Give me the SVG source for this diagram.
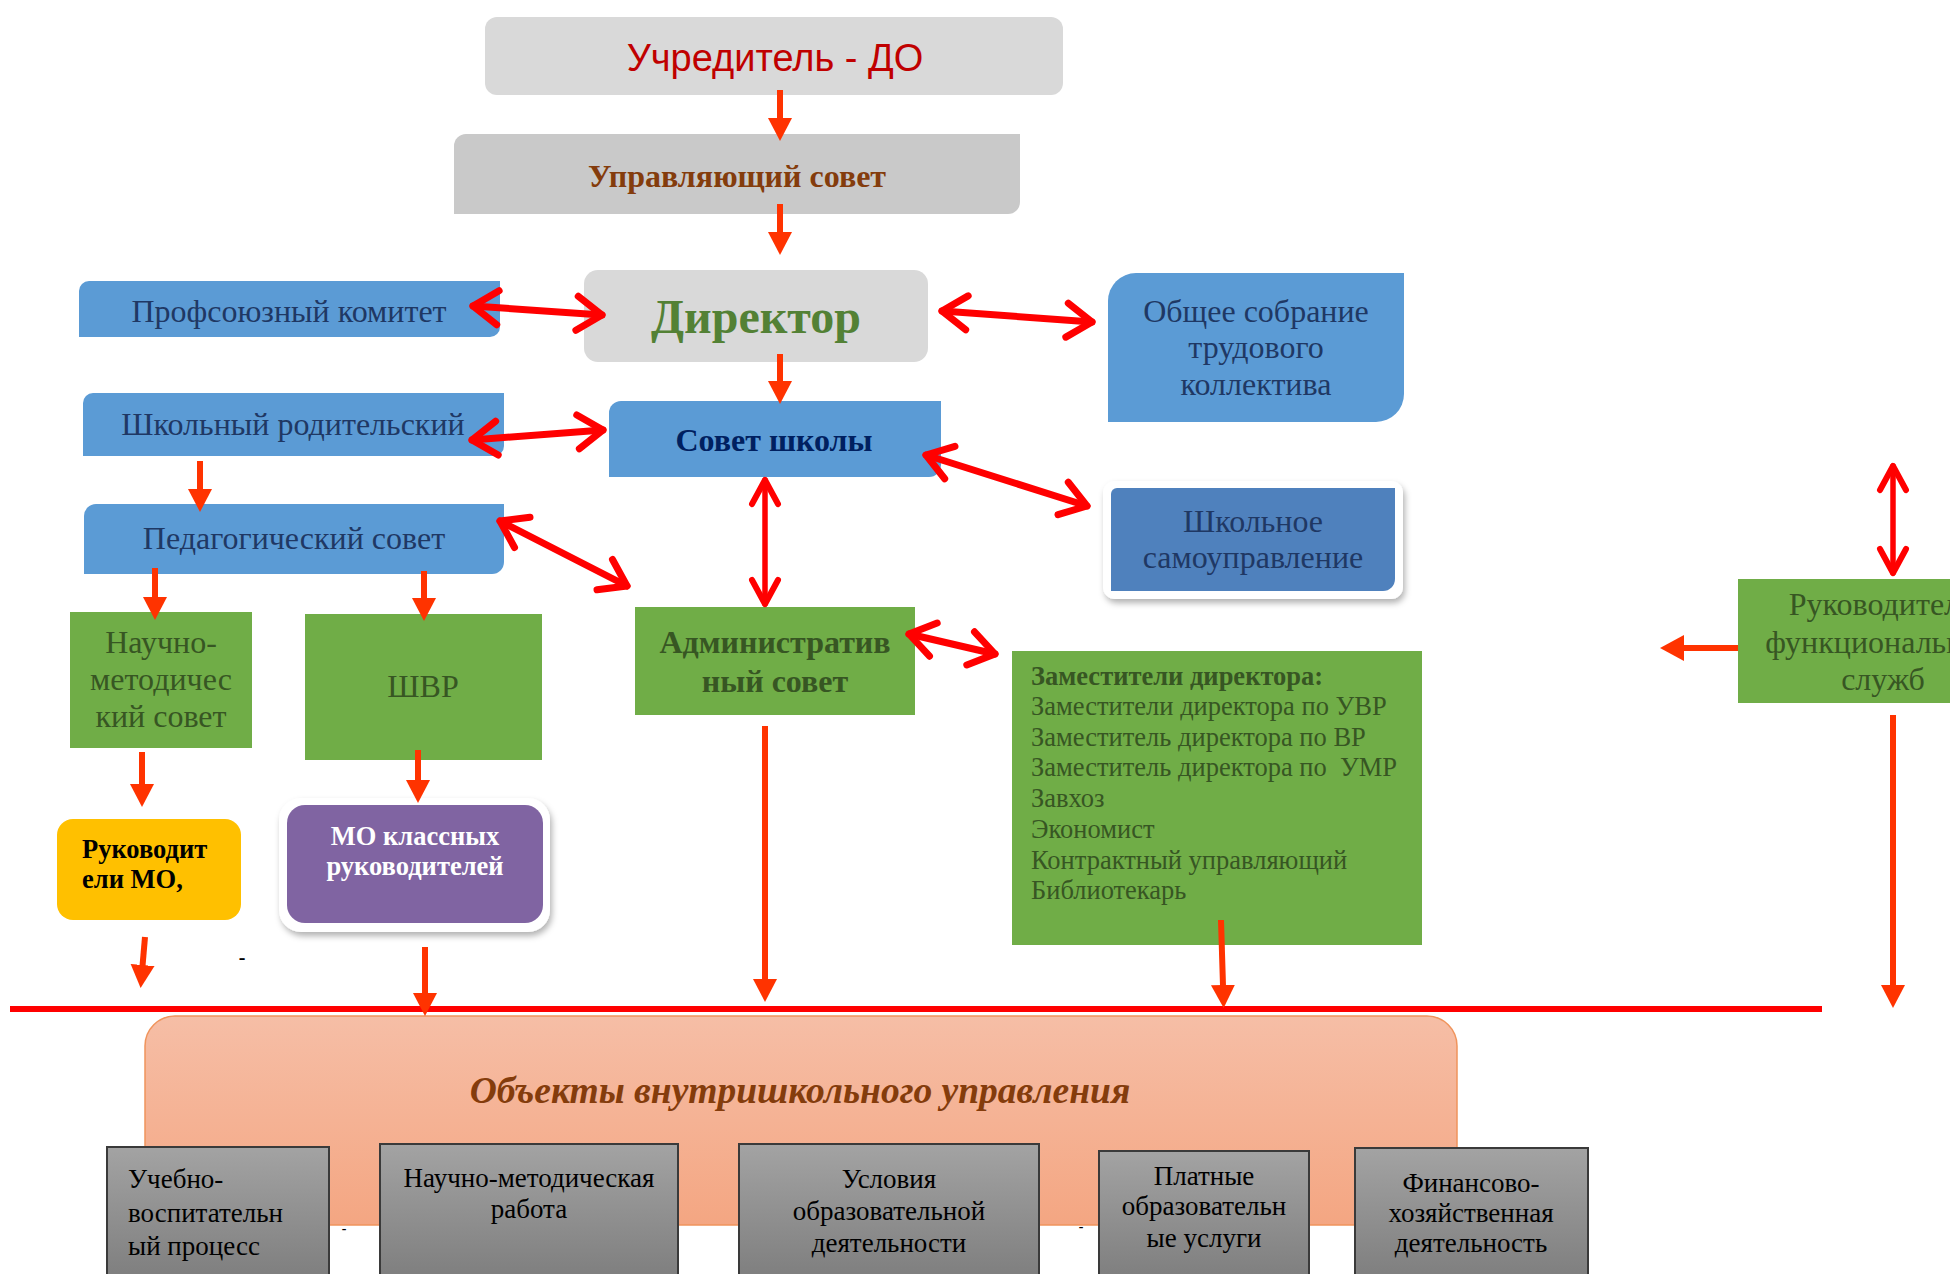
<svg xmlns="http://www.w3.org/2000/svg" width="1950" height="1274" viewBox="0 0 1950 1274">
<style>
.serif{font-family:"Liberation Serif","Times New Roman",serif}
.sans{font-family:"Liberation Sans",Arial,sans-serif}
.blue{fill:#5b9bd5}
.green{fill:#70ad47}
.gray{fill:#d9d9d9}
.tblue{fill:#1f3864}
.tgreen{fill:#375623}
.mid{text-anchor:middle}
.arr{stroke:#ff3300;stroke-width:6;fill:none}
.dbl{stroke:#ff0000;stroke-width:7;fill:none;stroke-linecap:round}
.dbl2{stroke:#ff0000;stroke-width:5.5;fill:none;stroke-linecap:round}
.gbox{fill:url(#gg);stroke:#3a3a3a;stroke-width:2}
.btxt{font-size:27px;fill:#000}
</style>
<defs>
<marker id="hd" markerUnits="userSpaceOnUse" viewBox="0 -13 24 26" refX="1" refY="0" markerWidth="24" markerHeight="26" orient="auto">
<path d="M0,-12 L23,0 L0,12 Z" fill="#ff3300"/>
</marker>
<marker id="hdL" markerUnits="userSpaceOnUse" viewBox="0 -14 26 28" refX="1" refY="0" markerWidth="26" markerHeight="28" orient="auto">
<path d="M0,-13 L24,0 L0,13 Z" fill="#ff3300"/>
</marker>
<marker id="chev" markerUnits="userSpaceOnUse" viewBox="-32 -24 40 48" refX="0" refY="0" markerWidth="40" markerHeight="48" orient="auto-start-reverse" overflow="visible">
<path d="M-25,-17 L0,0 L-25,17" fill="none" stroke="#ff0000" stroke-width="7" stroke-linecap="round" stroke-linejoin="round"/>
</marker>
<marker id="chev2" markerUnits="userSpaceOnUse" viewBox="-32 -24 40 48" refX="0" refY="0" markerWidth="40" markerHeight="48" orient="auto-start-reverse" overflow="visible">
<path d="M-24,-13 L0,0 L-24,13" fill="none" stroke="#ff0000" stroke-width="6" stroke-linecap="round" stroke-linejoin="round"/>
</marker>
<linearGradient id="sal" x1="0" y1="0" x2="0" y2="1">
<stop offset="0" stop-color="#f6bea6"/>
<stop offset="1" stop-color="#f4a682"/>
</linearGradient>
<linearGradient id="gg" x1="0" y1="0" x2="0" y2="1">
<stop offset="0" stop-color="#a3a3a3"/>
<stop offset="1" stop-color="#7c7c7c"/>
</linearGradient>
<filter id="sh" x="-10%" y="-10%" width="125%" height="130%">
<feDropShadow dx="2" dy="4" stdDeviation="3" flood-color="#000" flood-opacity="0.3"/>
</filter>
</defs>

<!-- salmon objects panel (background) -->
<g id="objects">
<rect x="145" y="1016" width="1312" height="209" rx="30" fill="url(#sal)" stroke="#f0945c" stroke-width="1.5"/>
<text class="serif" x="800" y="1103" text-anchor="middle" font-size="37.5" font-weight="bold" font-style="italic" fill="#843c0c">Объекты внутришкольного управления</text>
</g>

<g id="uchreditel">
<rect x="485" y="17" width="578" height="78" rx="12" class="gray"/>
<text class="sans" x="775" y="71" text-anchor="middle" font-size="38" fill="#c00000">Учредитель - ДО</text>
</g>

<g id="upr-sovet">
<path d="M466,134 H1020 V202 A12,12 0 0 1 1008,214 H454 V146 A12,12 0 0 1 466,134 Z" fill="#c9c9c9"/>
<text class="serif" x="737" y="187" text-anchor="middle" font-size="32" font-weight="bold" fill="#843c0c">Управляющий совет</text>
</g>

<g id="direktor">
<rect x="584" y="270" width="344" height="92" rx="14" class="gray"/>
<text class="serif" x="756" y="333" text-anchor="middle" font-size="48" font-weight="bold" fill="#538135">Директор</text>
</g>

<g id="profkom">
<path d="M89,281 H500 V327 A10,10 0 0 1 490,337 H79 V291 A10,10 0 0 1 89,281 Z" class="blue"/>
<text class="serif tblue" x="289" y="322" text-anchor="middle" font-size="32">Профсоюзный комитет</text>
</g>

<g id="obshchee">
<path d="M1136,273 H1404 V394 A28,28 0 0 1 1376,422 H1108 V301 A28,28 0 0 1 1136,273 Z" class="blue"/>
<text class="serif tblue mid" font-size="32"><tspan x="1256" y="322">Общее собрание</tspan><tspan x="1256" y="358">трудового</tspan><tspan x="1256" y="395">коллектива</tspan></text>
</g>

<g id="roditelsky">
<path d="M93,393 H504 V446 A10,10 0 0 1 494,456 H83 V403 A10,10 0 0 1 93,393 Z" class="blue"/>
<text class="serif tblue" x="293" y="435" text-anchor="middle" font-size="32">Школьный родительский</text>
</g>

<g id="sovet-shkoly">
<path d="M621,401 H941 V465 A12,12 0 0 1 929,477 H609 V413 A12,12 0 0 1 621,401 Z" class="blue"/>
<text class="serif" x="774" y="451" text-anchor="middle" font-size="32" font-weight="bold" fill="#002060">Совет школы</text>
</g>

<g id="samoupr">
<rect x="1103" y="481" width="300" height="118" rx="12" fill="#ffffff" filter="url(#sh)"/>
<path d="M1117,488 H1395 V579 A12,12 0 0 1 1383,591 H1111 V494 A6,6 0 0 1 1117,488 Z" fill="#4f81bd"/>
<text class="serif tblue mid" font-size="32"><tspan x="1253" y="532">Школьное</tspan><tspan x="1253" y="568">самоуправление</tspan></text>
</g>

<g id="ped-sovet">
<path d="M96,504 H504 V562 A12,12 0 0 1 492,574 H84 V516 A12,12 0 0 1 96,504 Z" class="blue"/>
<text class="serif tblue" x="294" y="549" text-anchor="middle" font-size="32">Педагогический совет</text>
</g>

<g id="nms">
<rect x="70" y="612" width="182" height="136" class="green"/>
<text class="serif tgreen mid" font-size="32"><tspan x="161" y="653">Научно-</tspan><tspan x="161" y="690">методичес</tspan><tspan x="161" y="727">кий совет</tspan></text>
</g>

<g id="shvr">
<rect x="305" y="614" width="237" height="146" class="green"/>
<text class="serif tgreen" x="423" y="697" text-anchor="middle" font-size="32">ШВР</text>
</g>

<g id="admin">
<rect x="635" y="607" width="280" height="108" class="green"/>
<text class="serif tgreen mid" font-size="32" font-weight="bold"><tspan x="775" y="653">Административ</tspan><tspan x="775" y="692">ный совет</tspan></text>
</g>

<g id="zamy">
<rect x="1012" y="651" width="410" height="294" class="green"/>
<text class="serif tgreen" font-size="26.5">
<tspan x="1031" y="685" font-weight="bold">Заместители директора:</tspan>
<tspan x="1031" y="715">Заместители директора по УВР</tspan>
<tspan x="1031" y="746">Заместитель директора по ВР</tspan>
<tspan x="1031" y="776" xml:space="preserve">Заместитель директора по  УМР</tspan>
<tspan x="1031" y="807">Завхоз</tspan>
<tspan x="1031" y="838">Экономист</tspan>
<tspan x="1031" y="869">Контрактный управляющий</tspan>
<tspan x="1031" y="899">Библиотекарь</tspan>
</text>
</g>

<g id="ruk-func">
<rect x="1738" y="579" width="260" height="124" class="green"/>
<text class="serif tgreen mid" font-size="32"><tspan x="1883" y="615">Руководители</tspan><tspan x="1883" y="653">функциональных</tspan><tspan x="1883" y="690">служб</tspan></text>
</g>

<g id="ruk-mo">
<rect x="57" y="819" width="184" height="101" rx="16" fill="#ffc000"/>
<text class="serif" font-size="26.5" font-weight="bold" fill="#000"><tspan x="82" y="858">Руководит</tspan><tspan x="82" y="888">ели МО,</tspan></text>
</g>

<g id="mo-klass">
<rect x="279" y="798" width="271" height="134" rx="22" fill="#ffffff" filter="url(#sh)"/>
<rect x="287" y="805" width="256" height="118" rx="18" fill="#8064a2"/>
<text class="serif mid" font-size="26.5" font-weight="bold" fill="#ffffff"><tspan x="415" y="845">МО классных</tspan><tspan x="415" y="875">руководителей</tspan></text>
</g>

<g id="obj-1">
<rect x="107" y="1147" width="222" height="140" class="gbox"/>
<text class="serif btxt" font-size="29"><tspan x="128" y="1188">Учебно-</tspan><tspan x="128" y="1222">воспитательн</tspan><tspan x="128" y="1255">ый процесс</tspan></text>
</g>
<g id="obj-2">
<rect x="380" y="1144" width="298" height="143" class="gbox"/>
<text class="serif btxt mid"><tspan x="529" y="1187">Научно-методическая</tspan><tspan x="529" y="1218">работа</tspan></text>
</g>
<g id="obj-3">
<rect x="739" y="1144" width="300" height="143" class="gbox"/>
<text class="serif btxt mid"><tspan x="889" y="1188">Условия</tspan><tspan x="889" y="1220">образовательной</tspan><tspan x="889" y="1252">деятельности</tspan></text>
</g>
<g id="obj-4">
<rect x="1099" y="1151" width="210" height="136" class="gbox"/>
<text class="serif btxt mid"><tspan x="1204" y="1185">Платные</tspan><tspan x="1204" y="1215">образовательн</tspan><tspan x="1204" y="1247">ые услуги</tspan></text>
</g>
<g id="obj-5">
<rect x="1355" y="1148" width="233" height="139" class="gbox"/>
<text class="serif btxt mid"><tspan x="1471" y="1192">Финансово-</tspan><tspan x="1471" y="1222">хозяйственная</tspan><tspan x="1471" y="1252">деятельность</tspan></text>
</g>

<g id="marks" class="serif" font-size="20" font-weight="bold" fill="#000">
<text x="242" y="964" text-anchor="middle">-</text>
<text x="344" y="1233" text-anchor="middle" font-size="14">-</text>
<text x="1081" y="1231" text-anchor="middle" font-size="14">-</text>
</g>

<g id="connectors">
<line x1="10" y1="1009" x2="1822" y2="1009" stroke="#ff0000" stroke-width="6"/>
<line class="arr" x1="780" y1="90" x2="780" y2="119" marker-end="url(#hd)"/>
<line class="arr" x1="780" y1="204" x2="780" y2="233" marker-end="url(#hd)"/>
<line class="arr" x1="780" y1="354" x2="780" y2="382" marker-end="url(#hd)"/>
<line class="arr" x1="200" y1="461" x2="200" y2="490" marker-end="url(#hd)"/>
<line class="arr" x1="155" y1="568" x2="155" y2="598" marker-end="url(#hd)"/>
<line class="arr" x1="424" y1="571" x2="424" y2="599" marker-end="url(#hd)"/>
<line class="arr" x1="142" y1="752" x2="142" y2="785" marker-end="url(#hd)"/>
<line class="arr" x1="418" y1="750" x2="418" y2="781" marker-end="url(#hd)"/>
<line class="arr" x1="145" y1="937" x2="142.5" y2="966" marker-end="url(#hd)"/>
<line class="arr" x1="425" y1="947" x2="425" y2="994" marker-end="url(#hd)"/>
<line class="arr" x1="765" y1="726" x2="765" y2="980" marker-end="url(#hd)"/>
<line class="arr" x1="1221" y1="920" x2="1223" y2="986" marker-end="url(#hd)"/>
<line class="arr" x1="1893" y1="715" x2="1893" y2="986" marker-end="url(#hd)"/>
<line class="arr" x1="1738" y1="648" x2="1683" y2="648" stroke-width="8" marker-end="url(#hdL)"/>

<line class="dbl" x1="473" y1="306" x2="602" y2="315" marker-start="url(#chev)" marker-end="url(#chev)"/>
<line class="dbl" x1="942" y1="311" x2="1092" y2="322" marker-start="url(#chev)" marker-end="url(#chev)"/>
<line class="dbl" x1="472" y1="440" x2="603" y2="430" marker-start="url(#chev)" marker-end="url(#chev)"/>
<line class="dbl" x1="926" y1="455" x2="1087" y2="506" marker-start="url(#chev)" marker-end="url(#chev)"/>
<line class="dbl" x1="500" y1="521" x2="627" y2="586" marker-start="url(#chev)" marker-end="url(#chev)"/>
<line class="dbl2" x1="765" y1="480" x2="765" y2="604" marker-start="url(#chev2)" marker-end="url(#chev2)"/>
<line class="dbl" x1="909" y1="634" x2="995" y2="654" marker-start="url(#chev)" marker-end="url(#chev)"/>
<line class="dbl2" x1="1893" y1="466" x2="1893" y2="573" marker-start="url(#chev2)" marker-end="url(#chev2)"/>
</g>
</svg>
